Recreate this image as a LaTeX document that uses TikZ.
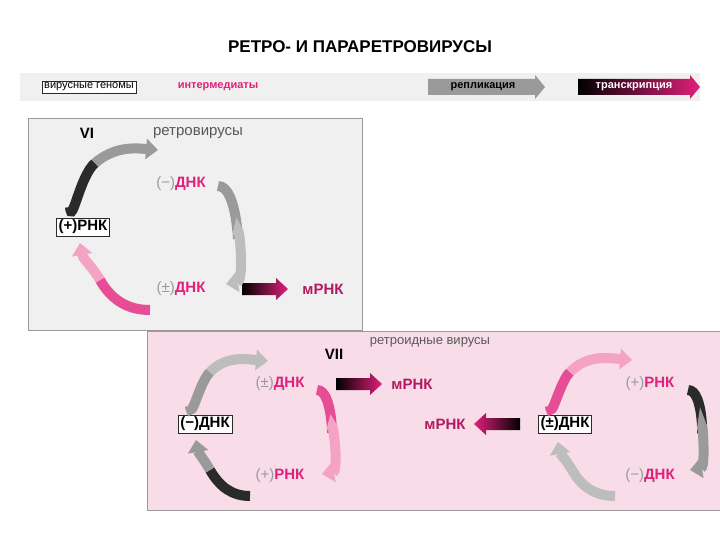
\documentclass[tikz,border=0pt]{standalone}
\usepackage{fontspec}
\setmainfont{Liberation Sans}
\usetikzlibrary{arrows.meta}
\definecolor{mag}{HTML}{E0207A}
\definecolor{pinkbg}{HTML}{F8DCE8}
\definecolor{grbg}{HTML}{F0F0F0}
\definecolor{dk}{HTML}{2A2A2A}
\definecolor{gr}{HTML}{9A9A9A}
\definecolor{lgr}{HTML}{BDBDBD}
\definecolor{pk}{HTML}{F4A3C4}
\tikzset{
 lbl/.style={font=\fontsize{15}{16}\selectfont\bfseries, text=mag, inner sep=2pt},
 gbox/.style={draw=dk, fill=white, font=\fontsize{15}{16}\selectfont\bfseries, inner sep=2pt},
 seg/.style={line width=10pt, draw=#1},
 arr/.style={line width=10pt, draw=#1, -{Triangle[width=20pt,length=12pt]}},
}
\newcommand{\pl}[1]{{\color{gr}\mdseries(#1)}}
% gradient arrow: center x, y, half length, direction (1 right, -1 left)
\newcommand{\garrow}[4]{%
 \shade[left color=#4, right color=#3] ({#1-23},{#2-6}) -- ({#1+11},{#2-6}) -- ({#1+11},{#2-11}) -- ({#1+23},#2) -- ({#1+11},{#2+11}) -- ({#1+11},{#2+6}) -- ({#1-23},{#2+6}) -- cycle;}
\newcommand{\garrowl}[4]{%
 \shade[left color=#3, right color=#4] ({#1+23},{#2-6}) -- ({#1-11},{#2-6}) -- ({#1-11},{#2-11}) -- ({#1-23},#2) -- ({#1-11},{#2+11}) -- ({#1-11},{#2+6}) -- ({#1+23},{#2+6}) -- cycle;}
\begin{document}
\begin{tikzpicture}[x=1pt,y=-1pt]
\useasboundingbox (0,0) rectangle (720,540);
\node[font=\fontsize{17}{18}\selectfont\bfseries] (title) at (360,47) {РЕТРО- И ПАРАРЕТРОВИРУСЫ};
% legend
\fill[grbg] (20,73) rectangle (700,101);
\node[draw=dk, fill=white, font=\fontsize{11}{12}\selectfont, inner sep=2pt] (lg) at (89,87) {вирусные геномы};
\node[font=\fontsize{11}{12}\selectfont\bfseries, text=mag] (li) at (218,87) {интермедиаты};
\fill[gr] (428,79) -- (535,79) -- (535,75) -- (545,87) -- (535,99) -- (535,95) -- (428,95) -- cycle;
\node[font=\fontsize{11}{12}\selectfont\bfseries] (lr) at (483,87) {репликация};
\shade[left color=black, right color=mag] (578,79) -- (690,79) -- (690,75) -- (700,87) -- (690,99) -- (690,95) -- (578,95) -- cycle;
\node[text=white, font=\fontsize{11}{12}\selectfont\bfseries] (lt) at (634,87) {транскрипция};
% panel VI
\draw[gr, fill=grbg] (28,118) rectangle (362,330);
\node[font=\fontsize{15}{16}\selectfont\bfseries] (vi) at (87,133) {VI};
\node[font=\fontsize{15}{16}\selectfont, text=black!65] (rv) at (198,133) {ретровирусы};
\node[lbl] (a1) at (181,184) {\pl{−}ДНК};
\node[gbox] (a2) at (83,227) {(+)РНК};
\node[lbl] (a3) at (181,289) {\pl{±}ДНК};
\garrow{265}{289}{mag}{black}
\coordinate (a4) at (265,289);
\node[lbl, text=mag!80!black] (a5) at (323,289) {мРНК};
\coordinate (p1) at (70,207); \coordinate (p1m) at (95,163); \coordinate (p1e) at (158,150);
\draw[seg=dk] (p1) to[out=-85,in=-140] (p1m);
\draw[arr=gr] (p1m) to[out=40,in=175] (p1e);
\coordinate (p2) at (218,186); \coordinate (p2m) at (238,235); \coordinate (p2e) at (226,284);
\draw[seg=gr] (p2) to[out=0,in=-90] (p2m);
\draw[arr=lgr] (p2m) to[out=90,in=10] (p2e);
\coordinate (p3) at (150,310); \coordinate (p3m) at (100,280); \coordinate (p3e) at (80,243);
\draw[seg=mag!80] (p3) to[out=180,in=-60] (p3m);
\draw[arr=pk] (p3m) to[out=120,in=-80] (p3e);
% panel VII
\draw[gr, fill=pinkbg] (147,331) rectangle (720,510);
\node[font=\fontsize{15}{16}\selectfont\bfseries] (vii) at (334,354) {VII};
\node[font=\fontsize{13}{14}\selectfont, text=black!65] (rd) at (430,342) {ретроидные вирусы};
\node[gbox] (b1) at (205,424) {(−)ДНК};
\node[lbl] (b2) at (280,384) {\pl{±}ДНК};
\node[lbl] (b3) at (280,476) {\pl{+}РНК};
\garrow{359}{384}{mag}{black}
\coordinate (b4) at (359,384);
\node[lbl, text=mag!80!black] (b5) at (412,384) {мРНК};
\coordinate (q1) at (190,406); \coordinate (q1m) at (210,372); \coordinate (q1e) at (268,361);
\draw[seg=gr] (q1) to[out=-85,in=-135] (q1m);
\draw[arr=lgr] (q1m) to[out=45,in=175] (q1e);
\coordinate (q2) at (317,390); \coordinate (q2m) at (332,430); \coordinate (q2e) at (322,474);
\draw[seg=mag!80] (q2) to[out=0,in=-90] (q2m);
\draw[arr=pk] (q2m) to[out=90,in=10] (q2e);
\coordinate (q3) at (250,496); \coordinate (q3m) at (210,470); \coordinate (q3e) at (196,440);
\draw[seg=dk] (q3) to[out=180,in=-60] (q3m);
\draw[arr=gr] (q3m) to[out=120,in=-80] (q3e);
\node[gbox] (c1) at (565,424) {(±)ДНК};
\node[lbl] (c2) at (650,384) {\pl{+}РНК};
\node[lbl] (c3) at (650,476) {\pl{−}ДНК};
\garrowl{497}{424}{mag}{black}
\coordinate (c4) at (497,424);
\node[lbl, text=mag!80!black] (c5) at (445,424) {мРНК};
\coordinate (r1) at (550,406); \coordinate (r1m) at (570,372); \coordinate (r1e) at (632,360);
\draw[seg=mag!80] (r1) to[out=-85,in=-135] (r1m);
\draw[arr=pk] (r1m) to[out=45,in=175] (r1e);
\coordinate (r2) at (688,390); \coordinate (r2m) at (702,430); \coordinate (r2e) at (690,470);
\draw[seg=dk] (r2) to[out=0,in=-90] (r2m);
\draw[arr=gr] (r2m) to[out=90,in=10] (r2e);
\coordinate (r3) at (615,496); \coordinate (r3m) at (572,470); \coordinate (r3e) at (558,442);
\draw[seg=lgr] (r3) to[out=180,in=-60] (r3m);
\draw[arr=lgr] (r3m) to[out=120,in=-80] (r3e);
\end{tikzpicture}
\end{document}
